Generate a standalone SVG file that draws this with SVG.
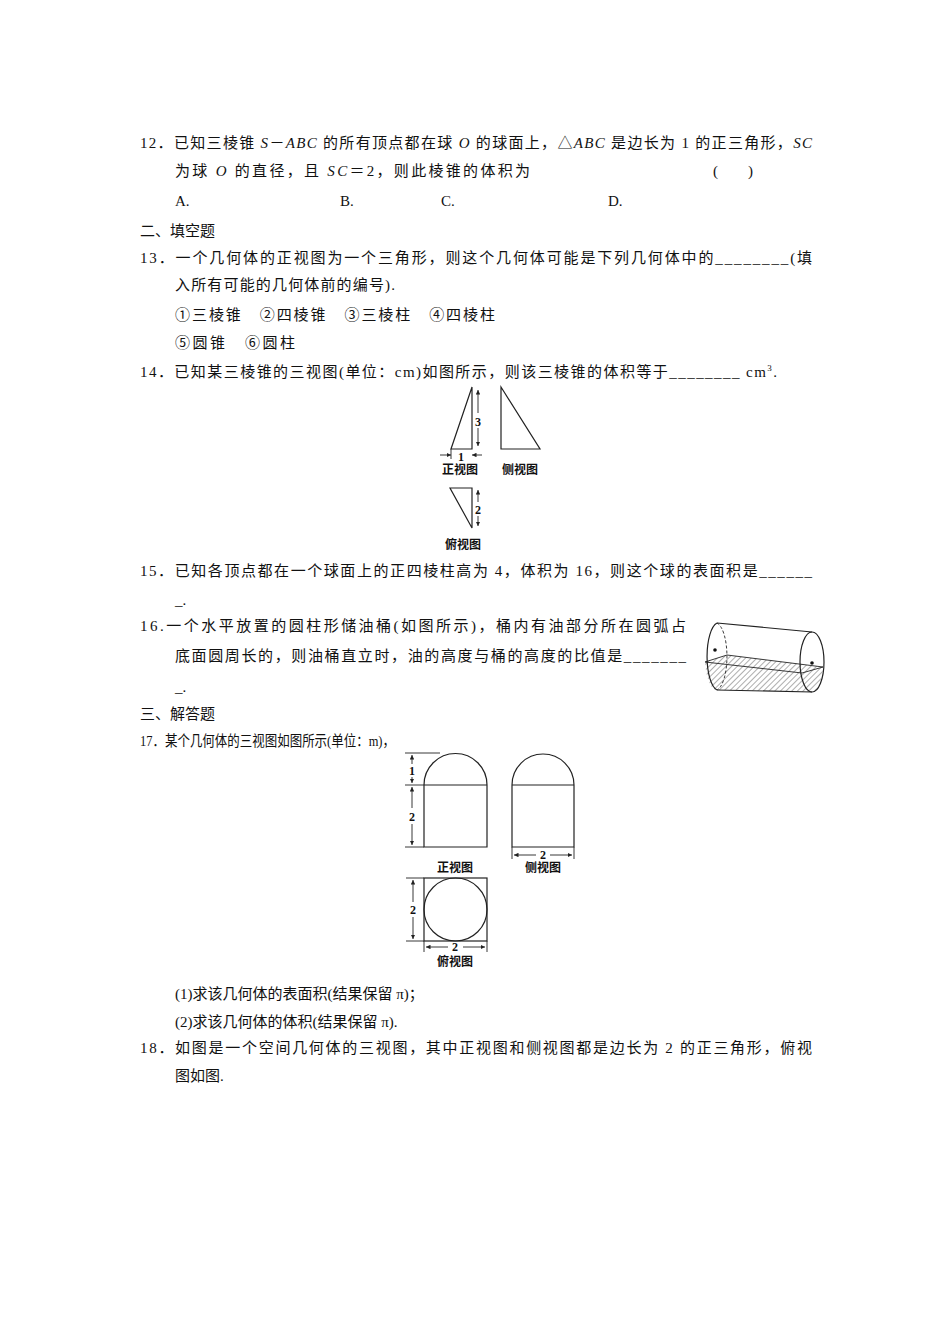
<svg xmlns="http://www.w3.org/2000/svg" width="950" height="1344" viewBox="0 0 950 1344">
<style>
text{font-family:"Liberation Serif","Noto Sans CJK SC",serif;font-size:15px;fill:#111}
.s{font-size:12px;font-weight:bold}
.l{stroke:#222;stroke-width:1.2;fill:none}
.d{stroke:#222;stroke-width:0.9;fill:none}
</style>
<defs>
<marker id="a" viewBox="0 0 6 6" refX="6" refY="3" markerWidth="5" markerHeight="5" orient="auto-start-reverse"><path d="M0,0L6,3L0,6z" fill="#222"/></marker>
<pattern id="h" width="4" height="4" patternUnits="userSpaceOnUse" patternTransform="rotate(45)"><line x1="0" y1="0" x2="0" y2="4" stroke="#333" stroke-width="0.8"/></pattern>
</defs>
<rect width="950" height="1344" fill="#fff"/>
<g id="text">
<text x="140" y="148" textLength="672" lengthAdjust="spacing">12．已知三棱锥 <tspan font-style="italic">S</tspan>－<tspan font-style="italic">ABC</tspan> 的所有顶点都在球 <tspan font-style="italic">O</tspan> 的球面上，△<tspan font-style="italic">ABC</tspan> 是边长为 1 的正三角形，<tspan font-style="italic">SC</tspan></text>
<text x="175" y="176" textLength="355" lengthAdjust="spacing">为球 <tspan font-style="italic">O</tspan> 的直径，且 <tspan font-style="italic">SC</tspan>＝2，则此棱锥的体积为</text>
<text x="713" y="176">(　　)</text>
<text x="175" y="206">A.</text><text x="340" y="206">B.</text><text x="441" y="206">C.</text><text x="608" y="206">D.</text>
<text x="140" y="236">二、填空题</text>
<text x="140" y="263" textLength="672" lengthAdjust="spacing">13．一个几何体的正视图为一个三角形，则这个几何体可能是下列几何体中的________(填</text>
<text x="175" y="290" textLength="220" lengthAdjust="spacing">入所有可能的几何体前的编号).</text>
<text x="175" y="320" textLength="320" lengthAdjust="spacing">①三棱锥　②四棱锥　③三棱柱　④四棱柱</text>
<text x="175" y="348" textLength="120" lengthAdjust="spacing">⑤圆锥　⑥圆柱</text>
<text x="140" y="377" textLength="637" lengthAdjust="spacing">14．已知某三棱锥的三视图(单位：cm)如图所示，则该三棱锥的体积等于________ cm<tspan font-size="9" dy="-6">3</tspan><tspan dy="6">.</tspan></text>
<text x="140" y="576" textLength="672" lengthAdjust="spacing">15．已知各顶点都在一个球面上的正四棱柱高为 4，体积为 16，则这个球的表面积是______</text>
<text x="175" y="605">_.</text>
<text x="140" y="631" textLength="546" lengthAdjust="spacing">16.一个水平放置的圆柱形储油桶(如图所示)，桶内有油部分所在圆弧占</text>
<text x="175" y="661" textLength="511" lengthAdjust="spacing">底面圆周长的，则油桶直立时，油的高度与桶的高度的比值是_______</text>
<text x="175" y="692">_.</text>
<text x="140" y="719">三、解答题</text>
<text x="140" y="746" textLength="255" lengthAdjust="spacingAndGlyphs">17．某个几何体的三视图如图所示(单位：m)，</text>
<text x="175" y="999">(1)求该几何体的表面积(结果保留 π)；</text>
<text x="175" y="1027">(2)求该几何体的体积(结果保留 π).</text>
<text x="140" y="1053" textLength="672" lengthAdjust="spacing">18．如图是一个空间几何体的三视图，其中正视图和侧视图都是边长为 2 的正三角形，俯视</text>
<text x="175" y="1081">图如图.</text>
</g>
<g id="fig14">
<path class="l" d="M472,387L451,449H472Z"/>
<path class="l" d="M501,387V449H540Z"/>
<path class="l" d="M450,488H472V528Z"/>
<line class="d" x1="478" y1="390" x2="478" y2="413" marker-start="url(#a)"/>
<line class="d" x1="478" y1="428" x2="478" y2="446" marker-end="url(#a)"/>
<text class="s" x="478" y="426" text-anchor="middle">3</text>
<line class="d" x1="451" y1="449" x2="451" y2="459"/>
<line class="d" x1="440" y1="455" x2="451" y2="455" marker-end="url(#a)"/>
<line class="d" x1="482" y1="455" x2="472" y2="455" marker-end="url(#a)"/>
<text class="s" x="461" y="461" text-anchor="middle">1</text>
<text class="s" x="460" y="474" text-anchor="middle">正视图</text>
<text class="s" x="520" y="474" text-anchor="middle">侧视图</text>
<line class="d" x1="478" y1="490" x2="478" y2="502" marker-start="url(#a)"/>
<line class="d" x1="478" y1="516" x2="478" y2="526" marker-end="url(#a)"/>
<text class="s" x="478" y="514" text-anchor="middle">2</text>
<text class="s" x="463" y="549" text-anchor="middle">俯视图</text>
</g>
<g id="fig16">
<path d="M705,662L727,655L823,667L802,673Z" fill="url(#h)" stroke="#222" stroke-width="0.9"/>
<path d="M705,662A12,34 0 0 0 717,690L812,692A12,30 0 0 0 823,667L802,673Z" fill="url(#h)" stroke="none"/>
<path class="l" d="M717,623A12,34 0 0 0 717,690"/>
<path class="d" d="M717,623A12,34 0 0 1 717,690" stroke-dasharray="3,2"/>
<ellipse class="l" cx="812" cy="662" rx="12" ry="30"/>
<line class="l" x1="717" y1="623" x2="812" y2="632"/>
<line class="l" x1="717" y1="690" x2="812" y2="692"/>
<circle cx="715" cy="650" r="1.8" fill="#111"/>
<circle cx="812" cy="663" r="1.8" fill="#111"/>
</g>
<g id="fig17">
<path class="l" d="M424,785A31.5,31.5 0 0 1 487,785V847H424Z M424,785H487"/>
<path class="l" d="M512,785A31,31 0 0 1 574,785V847H512Z M512,785H574"/>
<path class="d" d="M405,753H440M405,785H424M405,847H424"/>
<line class="d" x1="412" y1="755" x2="412" y2="764" marker-start="url(#a)"/>
<line class="d" x1="412" y1="777" x2="412" y2="783" marker-end="url(#a)"/>
<text class="s" x="412" y="775" text-anchor="middle">1</text>
<line class="d" x1="412" y1="787" x2="412" y2="808" marker-start="url(#a)"/>
<line class="d" x1="412" y1="824" x2="412" y2="845" marker-end="url(#a)"/>
<text class="s" x="412" y="821" text-anchor="middle">2</text>
<path class="d" d="M512,847V859M574,847V859"/>
<line class="d" x1="514" y1="855" x2="536" y2="855" marker-start="url(#a)"/>
<line class="d" x1="550" y1="855" x2="572" y2="855" marker-end="url(#a)"/>
<text class="s" x="543" y="859" text-anchor="middle">2</text>
<text class="s" x="455" y="872" text-anchor="middle">正视图</text>
<text class="s" x="543" y="872" text-anchor="middle">侧视图</text>
<rect class="l" x="424" y="878" width="63" height="63"/>
<circle class="l" cx="455.5" cy="909.5" r="31.5"/>
<path class="d" d="M406,878H424M406,941H424M424,941V952M487,941V952"/>
<line class="d" x1="413" y1="880" x2="413" y2="902" marker-start="url(#a)"/>
<line class="d" x1="413" y1="917" x2="413" y2="939" marker-end="url(#a)"/>
<text class="s" x="413" y="914" text-anchor="middle">2</text>
<line class="d" x1="426" y1="947" x2="448" y2="947" marker-start="url(#a)"/>
<line class="d" x1="463" y1="947" x2="485" y2="947" marker-end="url(#a)"/>
<text class="s" x="455" y="951" text-anchor="middle">2</text>
<text class="s" x="455" y="966" text-anchor="middle">俯视图</text>
</g>
</svg>
